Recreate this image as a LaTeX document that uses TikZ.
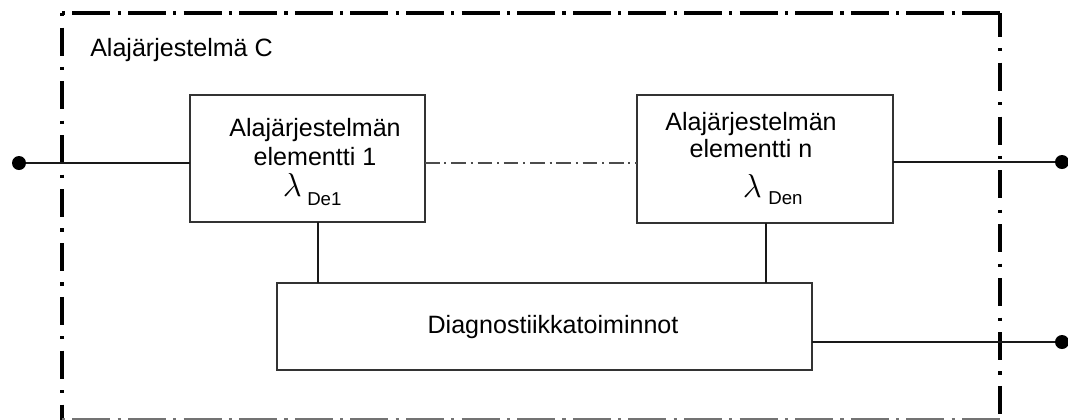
\documentclass[tikz,border=0pt]{standalone}
\usepackage{fontspec}
\setmainfont{Liberation Sans}
\begin{document}
\begin{tikzpicture}[x=0.75pt,y=-0.75pt,
  box/.style={draw=black!80,line width=1.6pt,inner sep=0pt,outer sep=0pt},
  wire/.style={draw=black!90,line width=1.7pt},
  link/.style={draw=black!70,line width=1.2pt,dash pattern=on 11pt off 3.6pt on 1.5pt off 3.6pt},
  port/.style={circle,fill=black,draw=none,inner sep=0pt,minimum size=10.5pt},
  frameh/.style={line width=2.6pt,dash pattern=on 2.4pt off 5.4pt on 28.5pt off 5.4pt},
  framev/.style={line width=2.6pt,dash pattern=on 2.4pt off 8.5pt on 21pt off 8.5pt},
  txt/.style={font=\fontsize{18.8}{22}\selectfont,inner sep=0pt,anchor=base},
  sub/.style={font=\fontsize{14}{16}\selectfont,inner sep=0pt,anchor=base west},
  lam/.style={font=\fontsize{23}{25}\selectfont,inner sep=0pt,anchor=base east}
]
\useasboundingbox (0,0) rectangle (1068,419);

% subsystem frame (dash-dot)
\coordinate (fTL) at (62,13);
\coordinate (fTR) at (1000,13);
\coordinate (fBL) at (62,419.5);
\coordinate (fBR) at (1000,419.5);
\draw[frameh] (fTL) -- (fTR);
\draw[framev] (fTL) -- (fBL);
\draw[framev,dash phase=14pt] (fTR) -- (fBR);
\draw[frameh,draw=black!55] (fBL) -- (fBR);

\node[txt,anchor=base west] (title) at (90,56) {Alajärjestelmä C};

% element boxes
\node[box,minimum width=176.25pt,minimum height=95.25pt] (b1) at (307.5,158.5) {};
\node[box,minimum width=192pt,minimum height=96pt] (bn) at (765,159) {};
\node[box,minimum width=401.25pt,minimum height=65.25pt] (dg) at (544.5,326.5) {};

% box texts
\node[txt] (b1a) at (315,136) {Alajärjestelmän};
\node[txt] (b1b) at (315,165) {elementti 1};
\node[lam] (b1l) at (302,196) {$\lambda$};
\node[sub] (b1s) at (307,205) {De1};

\node[txt] (bna) at (751,130) {Alajärjestelmän};
\node[txt] (bnb) at (751,157) {elementti n};
\node[lam] (bnl) at (762,197) {$\lambda$};
\node[sub] (bns) at (768,204) {Den};

\node[txt] (dgt) at (553,333) {Diagnostiikkatoiminnot};

% terminals
\node[port] (pL) at (19,163) {};
\node[port] (pR1) at (1062,162) {};
\node[port] (pR2) at (1062,342) {};

% connections
\draw[wire] (pL) -- (pL -| b1.west);
\draw[link] (pL -| b1.east) -- (pL -| bn.west);
\draw[wire] (pR1 -| bn.east) -- (pR1);
\draw[wire] (pR2 -| dg.east) -- (pR2);
\draw[wire] ([xshift=7.9pt]b1.south) -- ([xshift=7.9pt]b1.south |- dg.north);
\draw[wire] ([xshift=0.75pt]bn.south) -- ([xshift=0.75pt]bn.south |- dg.north);
\end{tikzpicture}
\end{document}
